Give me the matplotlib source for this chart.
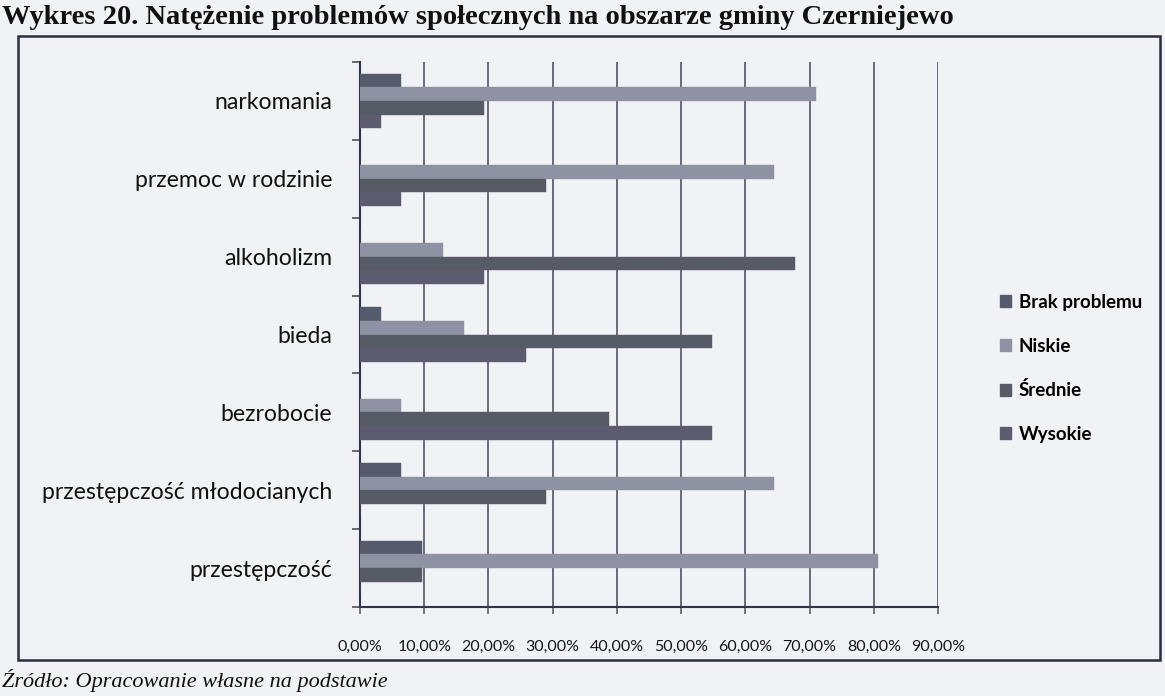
import matplotlib
matplotlib.use("Agg")
import matplotlib.pyplot as plt
from matplotlib.patches import Patch, Rectangle
import numpy as np

# ---- data ----
categories = ["narkomania", "przemoc w rodzinie", "alkoholizm", "bieda",
              "bezrobocie", "przestępczość młodocianych", "przestępczość"]
series_names = ["Brak problemu", "Niskie", "Średnie", "Wysokie"]
brak_problemu = [6.45, 0.0, 0.0, 3.23, 0.0, 6.45, 9.68]
niskie =        [70.97, 64.52, 12.90, 16.13, 6.45, 64.52, 80.65]
srednie =       [19.35, 29.03, 67.74, 54.84, 38.71, 29.03, 9.68]
wysokie =       [3.23, 6.45, 19.35, 25.81, 54.84, 0.0, 0.0]
x_ticks = [0, 10, 20, 30, 40, 50, 60, 70, 80, 90]
x_tick_labels = ["0,00%", "10,00%", "20,00%", "30,00%", "40,00%",
                 "50,00%", "60,00%", "70,00%", "80,00%", "90,00%"]
title_text = "Wykres 20. Natężenie problemów społecznych na obszarze gminy Czerniejewo"
source_text = "Źródło: Opracowanie własne na podstawie"

colors = ["#555a6c", "#8e92a2", "#565b66", "#5c5b70"]
paper = "#f1f2f6"

W, H = 1165, 696
fig = plt.figure(figsize=(W / 100, H / 100), dpi=100, facecolor=paper)

L, R, T, B = 360, 938, 62, 607
ax = fig.add_axes([L / W, 1 - B / H, (R - L) / W, (B - T) / H])
ax.set_facecolor(paper)

values = [brak_problemu, niskie, srednie, wysokie]
n = len(categories)
idx = np.arange(n)
h = 0.175
for k, (vals, name, col) in enumerate(zip(values, series_names, colors)):
    ax.barh(idx + (k - 1.5) * h, vals, height=h, color=col, label=name,
            edgecolor=col, linewidth=0.3, zorder=3)

ax.set_xlim(0, 90)
ax.set_ylim(n - 0.5, -0.5)
ax.set_xticks(x_ticks)
ax.set_xticklabels(x_tick_labels, fontsize=11.5, family=["Lato", "DejaVu Sans"],
                   color="#15151c")
ax.tick_params(axis="x", direction="out", length=5, width=1.1, color="#555",
               pad=19)
ax.grid(axis="x", color="#5e6070", linewidth=1.3)
ax.set_axisbelow(True)

ax.set_yticks(np.arange(n + 1) - 0.5)
ax.set_yticklabels([])
ax.tick_params(axis="y", which="major", direction="out", length=6, width=1.1,
               color="#444")
ax.set_yticks(idx, minor=True)
ax.set_yticklabels(categories, minor=True, fontsize=16.6,
                   family=["Lato", "DejaVu Sans"], color="#111")
ax.tick_params(axis="y", which="minor", length=0, pad=20)

for s in ["top", "right"]:
    ax.spines[s].set_visible(False)
for s in ["left", "bottom"]:
    ax.spines[s].set_color("#30364a")
    ax.spines[s].set_linewidth(1.5)

# legend
handles = [Patch(facecolor=c, edgecolor=c) for c in colors]
fig.legend(handles, series_names, loc="upper left",
           bbox_to_anchor=(1000 / W, 1 - 294 / H), frameon=False,
           prop={"family": ["Lato", "DejaVu Sans"],
                 "weight": "bold", "size": 13.5},
           handlelength=0.6, handleheight=0.6, handletextpad=0.4,
           labelspacing=1.42, borderpad=0, borderaxespad=0)

# chart border
fig.add_artist(Rectangle((18 / W, 1 - 660 / H), (1160 - 18) / W, (660 - 36) / H,
                         transform=fig.transFigure, fill=False,
                         edgecolor="#2a2f3e", linewidth=1.8))

# title and source
fig.text(2 / W, 1 - 17 / H, title_text, ha="left", va="center",
         fontsize=20.5, fontweight="bold",
         family=["Liberation Serif", "DejaVu Serif"], color="#111")
fig.text(2 / W, 1 - 680 / H, source_text, ha="left", va="center",
         fontsize=16, style="italic",
         family=["Liberation Serif", "DejaVu Serif"], color="#111")

fig.savefig("out.png", dpi=100, facecolor=paper)
